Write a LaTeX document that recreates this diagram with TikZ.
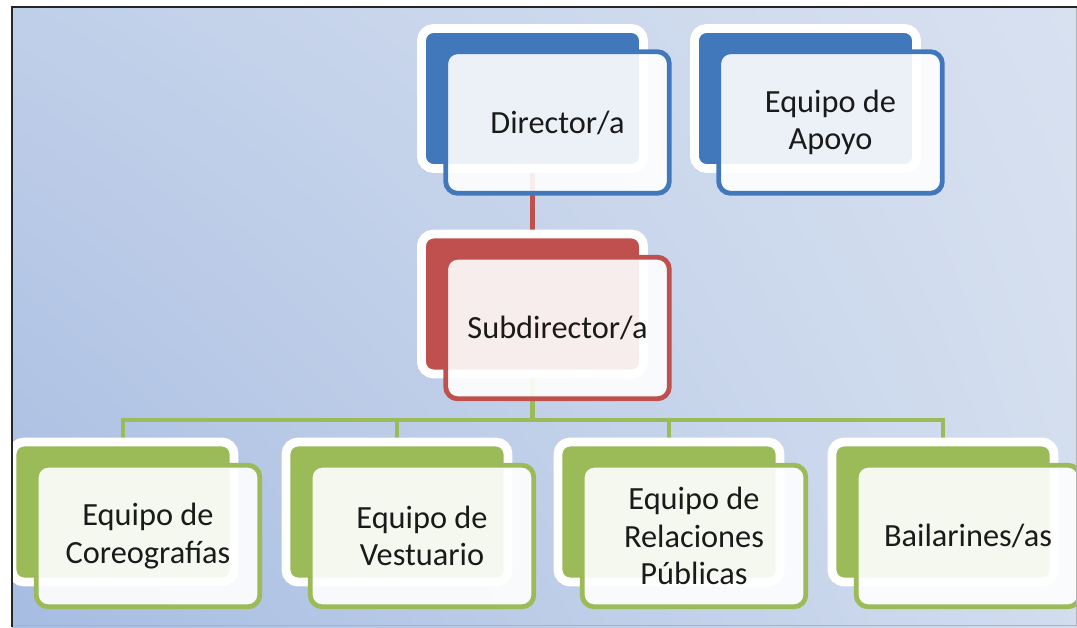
\documentclass[tikz,border=0pt]{standalone}
\usepackage{fontspec}
\setmainfont{Carlito}
\usetikzlibrary{calc,shadows,shadings,backgrounds}

\definecolor{azul}{HTML}{4178BC}
\definecolor{rojo}{HTML}{C0504D}
\definecolor{verde}{HTML}{9BBB59}
\definecolor{texto}{HTML}{1A1A1A}
\definecolor{cieloA}{HTML}{C0CFE9}
\definecolor{cieloB}{HTML}{D8E1F0}
\definecolor{cieloC}{HTML}{A6BCE1}
\definecolor{cieloD}{HTML}{D2DDEE}

\tikzset{
  fondo/.style={draw=white, fill=#1, line width=0.22cm, rounded corners=0.3cm,
    minimum width=5.55cm, minimum height=3.5cm,
    drop shadow={shadow xshift=-0.07cm, shadow yshift=-0.1cm, opacity=0.2}},
  frente/.style={draw=#1, line width=0.12cm, fill=white, fill opacity=0.9, text opacity=1,
    rounded corners=0.3cm, minimum width=5.59cm, minimum height=3.54cm,
    text=texto, align=center, font=\fontsize{23}{26.5}\selectfont},
  enlace/.style={line width=0.12cm},
}

\begin{document}
\begin{tikzpicture}[x=0.025cm,y=-0.025cm]
 \useasboundingbox (0,0) rectangle (1077,627);

 % direccion
 \node[fondo=azul] (dirB) at (532.5,98.5) {};
 \node[frente=azul] (dir) at ($(dirB)+(25,24)$) {Director/a};
 \node[fondo=azul] (apoB) at (805.5,98.5) {};
 \node[frente=azul] (apo) at ($(apoB)+(25,24)$) {Equipo de\\Apoyo};

 \node[fondo=rojo] (subB) at (532.5,304) {};
 \node[frente=rojo] (sub) at ($(subB)+(25,24)$) {Subdirector/a};

 % equipos
 \foreach \i/\x/\nombre in {1/123/{Equipo de\\Coreografías},2/397/{Equipo de\\Vestuario},
   3/669/{Equipo de\\Relaciones\\Públicas},4/943/{Bailarines/as}}{%
   \node[fondo=verde] (eqB\i) at (\x,512) {};
   \node[frente=verde] (eq\i) at ($(eqB\i)+(25,24)$) {\nombre};
 }

 \coordinate (barra) at (532.5,420);

 \begin{scope}[on background layer]
  \shade[upper left=cieloA, upper right=cieloB, lower left=cieloC, lower right=cieloD]
    (12,7) rectangle (1077,627);
  \draw[enlace, rojo] (dirB.south) -- (subB.north);
  \foreach \i in {1,...,4}
   \draw[enlace, verde] (subB.south) -- (barra) -| (eqB\i.north);
 \end{scope}

 % marco
 \draw[gray!60, line width=0.5pt] (1076,7) -- (1076,625) -- (12,625);
 \draw[black!85, line width=0.07cm] (12,627) -- (12,7) -- (1077,7);
\end{tikzpicture}
\end{document}
